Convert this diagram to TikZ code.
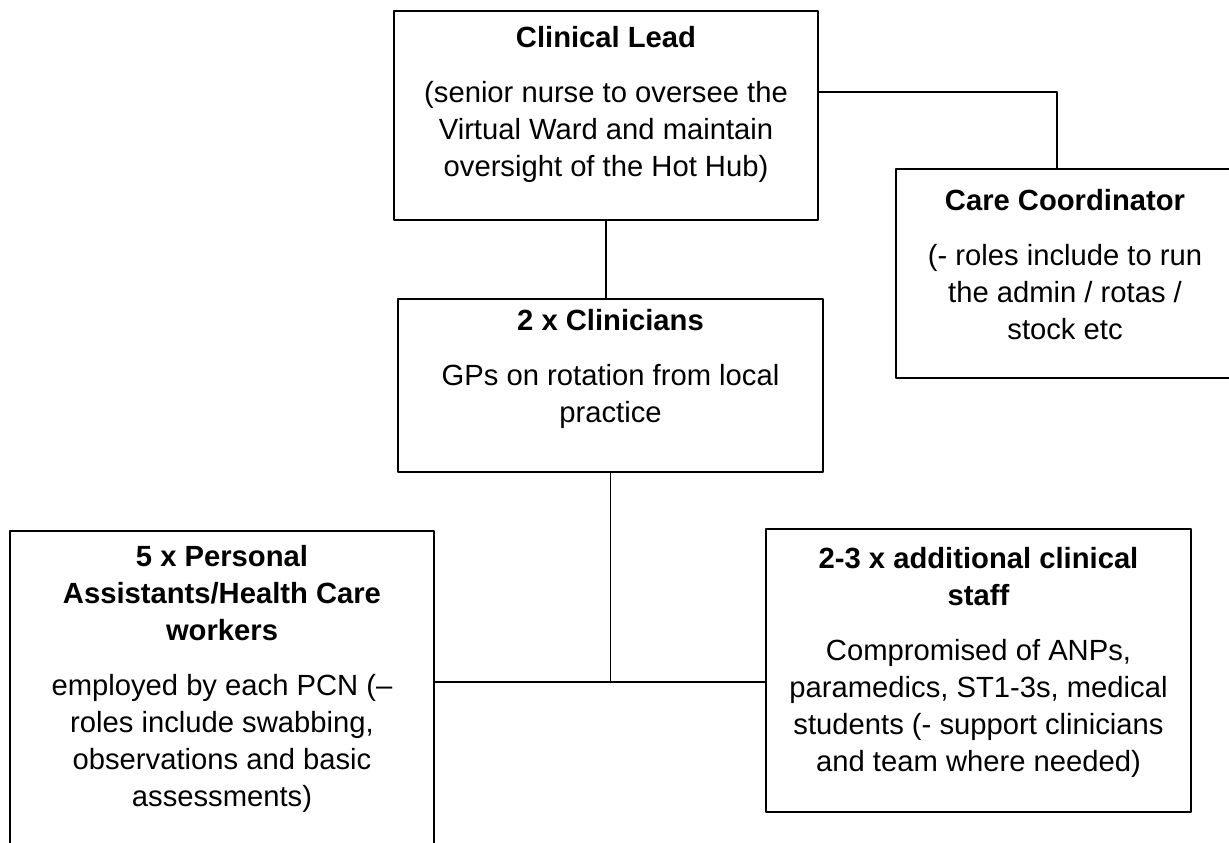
\documentclass[tikz,border=0pt]{standalone}
\usepackage{fontspec}
\setmainfont{Liberation Sans}
\tikzset{
	box/.style={draw,line width=1pt,inner sep=0pt},
	txt/.style={anchor=north,align=center,inner sep=0pt,font=\fontsize{14.6}{18.5}\selectfont},
	link/.style={line width=0.6pt}
}
\begin{document}
\begin{tikzpicture}[x=0.5pt,y=-0.5pt,line join=round,line cap=round]
	\useasboundingbox (0,0) rectangle (1229,842);
	\foreach \n/\cx/\cy/\w/\h in {lead/606/115.5/212/104.5,coord/1065/273.5/169/104.5,clin/610.5/385.5/212.5/86.5,pa/222/715.5/212/184.5,staff/978.5/670.5/212.5/141.5}
	\node[box,minimum width=\w pt,minimum height=\h pt] (\n) at (\cx,\cy) {};
	\path 
	(1057,92) coordinate (turn)
	(610,682) coordinate (spine)
	;
	\node[txt] (leadtxt) at ([yshift=-8pt]lead.north) {\textbf{Clinical Lead}\\[9pt](senior nurse to oversee the\\Virtual Ward and maintain\\oversight of the Hot Hub)};
	\node[txt] (coordtxt) at ([yshift=-10.5pt]coord.north) {\textbf{Care Coordinator}\\[9pt](- roles include to run\\the admin / rotas /\\stock etc};
	\node[txt] (clintxt) at ([yshift=-5.5pt]clin.north) {\textbf{2 x Clinicians}\\[9pt]GPs on rotation from local\\practice};
	\node[txt] (patxt) at ([yshift=-7.5pt]pa.north) {\textbf{5 x Personal}\\\textbf{Assistants/Health Care}\\\textbf{workers}\\[9pt]employed by each PCN (–\\roles include swabbing,\\observations and basic\\assessments)};
	\node[txt] (stafftxt) at ([yshift=-9.5pt]staff.north) {\textbf{2-3 x additional clinical}\\\textbf{staff}\\[9pt]Compromised of ANPs,\\paramedics, ST1-3s, medical\\students (- support clinicians\\and team where needed)};
	\draw[link] (turn -| lead.east) -- (turn) -- (turn |- coord.north);
	\draw[link] (lead.south) -- (lead.south |- clin.north);
	\draw[link] (clin.south) -- (clin.south |- spine);
	\draw[link] (pa.east |- spine) -- (staff.west |- spine);
\end{tikzpicture}
\end{document}
